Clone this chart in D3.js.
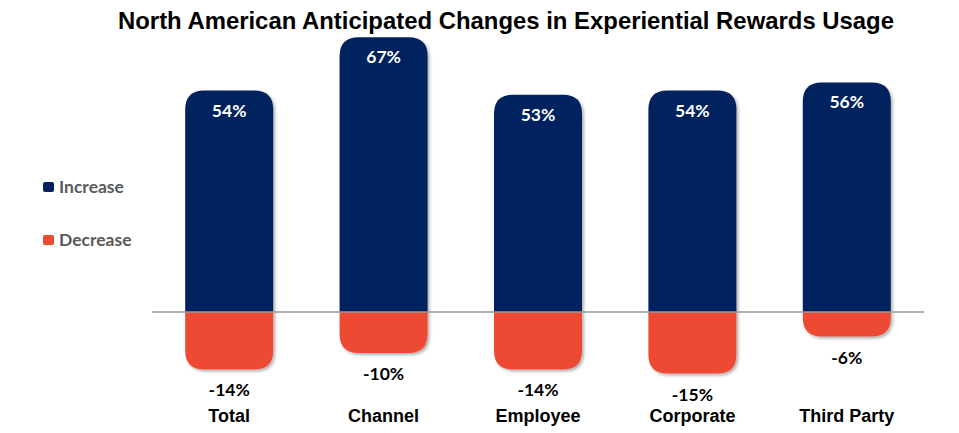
<!DOCTYPE html>
<html><head><meta charset="utf-8">
<script src="https://cdn.jsdelivr.net/npm/d3@7"></script>
<style>body{margin:0;background:#fff}svg{display:block}</style>
</head><body>
<svg id="c" width="959" height="433"></svg>
<script>
const categories = ["Total", "Channel", "Employee", "Corporate", "Third Party"];
const increase = [54, 67, 53, 54, 56];
const decrease = [-14, -10, -14, -15, -6];
const seriesNames = ["Increase", "Decrease"];
const colors = ["#03215f", "#ee4a30"];

const svg = d3.select("#c");
const defs = svg.append("defs");
const f = defs.append("filter").attr("id","sh").attr("x","-20%").attr("y","-20%").attr("width","140%").attr("height","140%");
f.append("feDropShadow").attr("dx",2).attr("dy",2).attr("stdDeviation",1.5).attr("flood-color","#000").attr("flood-opacity",0.3);

const x = d3.scaleBand().domain(categories).range([152, 924]).paddingInner(0.43).paddingOuter(0.215);
const y = d3.scaleLinear().domain([-20, 70]).range([394, 25]);
const r = 19;

function barPath(x0, w, y0, y1) {
  const up = y1 < y0;
  const h = Math.abs(y1 - y0);
  const rr = Math.min(r, h, w/2);
  if (up) {
    return `M${x0},${y0}V${y1+rr}Q${x0},${y1} ${x0+rr},${y1}H${x0+w-rr}Q${x0+w},${y1} ${x0+w},${y1+rr}V${y0}Z`;
  } else {
    return `M${x0},${y0}V${y1-rr}Q${x0},${y1} ${x0+rr},${y1}H${x0+w-rr}Q${x0+w},${y1} ${x0+w},${y1-rr}V${y0}Z`;
  }
}

const g = svg.append("g");
g.selectAll("path.inc").data(categories).join("path")
  .attr("class","inc")
  .attr("d",(c,i)=>barPath(x(c), x.bandwidth(), y(0), y(increase[i])))
  .attr("fill",colors[0]).attr("filter","url(#sh)");
g.selectAll("path.dec").data(categories).join("path")
  .attr("class","dec")
  .attr("d",(c,i)=>barPath(x(c), x.bandwidth(), y(0), y(decrease[i])))
  .attr("fill",colors[1]).attr("filter","url(#sh)");

svg.append("line").attr("x1",152).attr("x2",924).attr("y1",y(0)).attr("y2",y(0))
  .attr("stroke","#999").attr("stroke-width",1.5);

const lblFont = "Lato, 'Open Sans', sans-serif";
svg.selectAll("text.inc").data(categories).join("text")
  .attr("class","inc")
  .attr("x",c=>x(c)+x.bandwidth()/2)
  .attr("y",(c,i)=>y(increase[i])+26)
  .attr("text-anchor","middle").attr("fill","#fff")
  .attr("font-family",lblFont).attr("font-weight","bold").attr("font-size",17.5)
  .text((c,i)=>increase[i]+"%");
svg.selectAll("text.dec").data(categories).join("text")
  .attr("class","dec")
  .attr("x",c=>x(c)+x.bandwidth()/2)
  .attr("y",(c,i)=>y(decrease[i])+27)
  .attr("text-anchor","middle").attr("fill","#000")
  .attr("font-family",lblFont).attr("font-weight","bold").attr("font-size",17.5)
  .text((c,i)=>decrease[i]+"%");

const xAxis = d3.axisBottom(x).tickSize(0).tickPadding(0);
const ax = svg.append("g").attr("transform","translate(0,409)").call(xAxis);
ax.select(".domain").remove();
ax.selectAll("text").attr("font-family","'Liberation Sans', Arial, sans-serif")
  .attr("font-weight","bold").attr("font-size",18).attr("fill","#000");

svg.append("text").attr("x",506).attr("y",29).attr("text-anchor","middle")
  .attr("font-family","'Liberation Sans', Arial, sans-serif").attr("font-weight","bold")
  .attr("font-size",24).attr("textLength",776).attr("lengthAdjust","spacingAndGlyphs")
  .text("North American Anticipated Changes in Experiential Rewards Usage");

const leg = svg.append("g");
seriesNames.forEach((n,i)=>{
  const yy = 182 + i*53;
  leg.append("rect").attr("x",43).attr("y",yy).attr("width",11).attr("height",10).attr("rx",2).attr("fill",colors[i]);
  leg.append("text").attr("x",59).attr("y",yy+11).attr("font-family",lblFont).attr("font-weight","bold")
    .attr("font-size",17.5).attr("fill","#595959").text(n);
});
</script>
</body></html>
